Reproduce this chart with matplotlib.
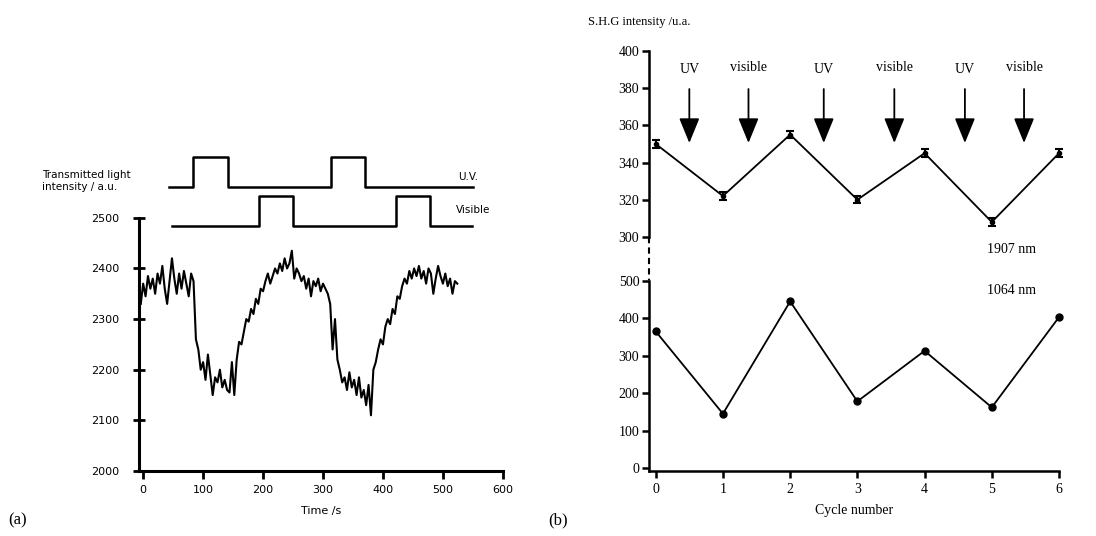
import numpy as np
import matplotlib
matplotlib.use("Agg")
import matplotlib.pyplot as plt
from matplotlib.lines import Line2D

# ---- panel (a) data: transmitted light vs time (4 s steps from -4 s)
trace_values = [
    2330, 2370, 2345, 2385, 2360, 2380, 2350, 2390, 2370, 2405, 2360, 2330, 2375, 2420,
    2380, 2350, 2390, 2360, 2395, 2370, 2345, 2390, 2375, 2260, 2240, 2200, 2215, 2180,
    2230, 2190, 2150, 2185, 2175, 2200, 2165, 2180, 2160, 2155, 2215, 2150, 2220, 2255,
    2250, 2275, 2300, 2295, 2320, 2310, 2340, 2330, 2360, 2355, 2375, 2390, 2370, 2385,
    2400, 2390, 2410, 2395, 2420, 2400, 2410, 2435, 2380, 2400, 2390, 2375, 2385, 2360,
    2380, 2345, 2375, 2365, 2380, 2355, 2370, 2360, 2350, 2330, 2240, 2300, 2220, 2200,
    2175, 2185, 2160, 2195, 2165, 2180, 2150, 2185, 2145, 2160, 2130, 2170, 2110, 2200,
    2215, 2240, 2260, 2250, 2285, 2300, 2290, 2320, 2310, 2345, 2340, 2365, 2380, 2370,
    2395, 2380, 2400, 2385, 2405, 2380, 2395, 2370, 2400, 2390, 2350, 2380, 2405, 2385,
    2370, 2390, 2365, 2380, 2350, 2375, 2370,
]
trace_times = np.arange(len(trace_values)) * 4 - 4

# illumination switching (s) and on/off state
uv_times = [43, 83, 142, 313, 370, 550]
uv_state = [0, 1, 0, 1, 0, 0]
vis_times = [48, 193, 250, 422, 478, 548]
vis_state = [0, 1, 0, 1, 0, 0]

# ---- panel (b) data: SHG intensity vs cycle number
cycles = [0, 1, 2, 3, 4, 5, 6]
shg_1907 = [350, 322, 355, 320, 345, 308, 345]
shg_1907_err = [2, 2, 2, 2, 2, 2, 2]
shg_1064 = [365, 145, 445, 178, 313, 162, 403]
uv_arrows = [0.5, 2.5, 4.6]
vis_arrows = [1.38, 3.55, 5.48]

fig = plt.figure(figsize=(10.96, 5.36), dpi=100)

# ================= panel (a)
gothic = "DejaVu Sans"
axa = fig.add_axes([0.1268, 0.1213, 0.332, 0.614])
axa.plot(trace_times, trace_values, color="black", lw=1.5)

uv_base, uv_high = 2560, 2620
vis_base, vis_high = 2483, 2543
axa.plot(uv_times, [uv_base + s * (uv_high - uv_base) for s in uv_state],
         drawstyle="steps-post", color="black", lw=1.8, clip_on=False)
axa.plot(vis_times, [vis_base + s * (vis_high - vis_base) for s in vis_state],
         drawstyle="steps-post", color="black", lw=1.8, clip_on=False)

axa.set_xlim(-7, 600)
axa.set_ylim(2000, 2650)
axa.spines["top"].set_visible(False)
axa.spines["right"].set_visible(False)
axa.spines["left"].set_bounds(2000, 2500)
for s in ("left", "bottom"):
    axa.spines[s].set_linewidth(2.2)
axa.set_yticks([2000, 2100, 2200, 2300, 2400, 2500])
axa.set_xticks([0, 100, 200, 300, 400, 500, 600])
axa.tick_params(axis="y", direction="inout", length=8, width=2, labelsize=8, pad=10)
axa.tick_params(axis="x", direction="out", length=6, width=2, labelsize=8, pad=4)
for lab in axa.get_xticklabels() + axa.get_yticklabels():
    lab.set_family(gothic)
axa.set_xlabel("Time /s", fontsize=8, family=gothic, labelpad=8)

fig.text(42 / 1096, 1 - 181 / 536, "Transmitted light\nintensity / a.u.",
         fontsize=7.5, family=gothic, va="center", ha="left", linespacing=1.3)
fig.text(458 / 1096, 1 - 177 / 536, "U.V.", fontsize=7.5, family=gothic, va="center")
fig.text(456 / 1096, 1 - 210 / 536, "Visible", fontsize=7.5, family=gothic, va="center")

fig.text(8 / 1096, 1 - 520 / 536, "(a)", fontsize=12, family="Liberation Serif", va="center")

# ================= panel (b)
serif = "Liberation Serif"
left_b, width_b = 649 / 1096, 410 / 1096
axt = fig.add_axes([left_b, 0.558, width_b, 0.347])
axb = fig.add_axes([left_b, 0.122, width_b, 0.354])

axt.errorbar(cycles, shg_1907, yerr=shg_1907_err, color="black", lw=1.3,
             capsize=3, capthick=1.5, elinewidth=1.5, marker="o", ms=3, clip_on=False)
axt.set_xlim(-0.1, 6)
axt.set_ylim(300, 400)
axt.set_yticks([300, 320, 340, 360, 380, 400])
axt.set_xticks([])
for s in ("top", "right", "bottom"):
    axt.spines[s].set_visible(False)
axt.spines["left"].set_linewidth(1.8)
axt.tick_params(axis="y", direction="out", length=5, width=1.8, labelsize=10, pad=2)

arrow_style = dict(arrowstyle="-|>,head_length=1.1,head_width=0.45",
                   mutation_scale=14, lw=1.3, color="black")
for x in uv_arrows:
    axt.annotate("", xy=(x, 349), xytext=(x, 381), arrowprops=arrow_style)
    axt.text(x, 390, "UV", ha="center", va="center", fontsize=10, family=serif)
for x in vis_arrows:
    axt.annotate("", xy=(x, 349), xytext=(x, 381), arrowprops=arrow_style)
    axt.text(x, 391, "visible", ha="center", va="center", fontsize=10, family=serif)

axt.text(5.3, 293, "1907 nm", ha="center", va="center", fontsize=10, family=serif)
# dashed break between the two y scales
axt.add_line(Line2D([0, 0], [0, -0.23], transform=axt.transAxes, color="black",
                    lw=1.5, ls=(0, (3, 2)), clip_on=False))

axb.plot(cycles, shg_1064, color="black", lw=1.3, marker="o", ms=5, clip_on=False)
axb.set_xlim(-0.1, 6)
axb.set_ylim(-7, 500)
axb.set_yticks([0, 100, 200, 300, 400, 500])
axb.set_xticks(cycles)
for s in ("top", "right"):
    axb.spines[s].set_visible(False)
axb.spines["left"].set_linewidth(1.8)
axb.spines["bottom"].set_linewidth(1.8)
axb.tick_params(axis="both", direction="out", length=5, width=1.8, labelsize=10, pad=2)
axb.tick_params(axis="x", pad=4)
for lab in axb.get_xticklabels() + axb.get_yticklabels() + axt.get_yticklabels():
    lab.set_family(serif)
axb.set_xlabel("Cycle number", fontsize=10, family=serif, labelpad=6)
axb.text(5.3, 473, "1064 nm", ha="center", va="center", fontsize=10, family=serif)

fig.text(588 / 1096, 1 - 22 / 536, "S.H.G intensity /u.a.", fontsize=9,
         family=serif, va="center")
fig.text(548 / 1096, 1 - 520 / 536, "(b)", fontsize=12, family=serif, va="center")

fig.savefig("out.png", dpi=100)
